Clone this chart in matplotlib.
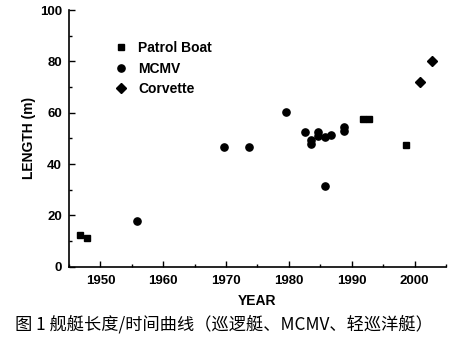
import matplotlib.pyplot as plt
from matplotlib.ticker import MultipleLocator

plt.rcParams['font.family'] = ['Liberation Sans', 'DejaVu Sans']

# vessel length vs. year of build
patrol_year = [1946.8, 1947.9, 1991.8, 1992.7, 1998.7]
patrol_len = [12.3, 11.3, 57.7, 57.7, 47.5]

mcmv_year = [1955.8, 1969.7, 1973.7, 1979.6, 1982.6, 1983.5, 1983.5, 1984.7,
             1984.7, 1985.7, 1985.8, 1986.7, 1988.7, 1988.7]
mcmv_len = [17.8, 46.5, 46.5, 60.4, 52.3, 49.5, 47.8, 52.3,
            50.8, 50.4, 31.5, 51.4, 54.5, 53.0]

corvette_year = [2000.8, 2002.8]
corvette_len = [72.1, 80.1]

caption = "图 1 舰艇长度/时间曲线（巡逻艇、MCMV、轻巡洋艇）"

fig = plt.figure(figsize=(4.66, 3.49), dpi=100)
ax = fig.add_axes([0.148, 0.236, 0.809, 0.735])

ax.plot(patrol_year, patrol_len, 's', color='black', ms=5, label='Patrol Boat')
ax.plot(mcmv_year, mcmv_len, 'o', color='black', ms=5.2, label='MCMV')
ax.plot(corvette_year, corvette_len, 'D', color='black', ms=4.6, label='Corvette')

ax.set_xlim(1945, 2005)
ax.set_ylim(0, 100)
ax.xaxis.set_major_locator(MultipleLocator(10))
ax.xaxis.set_minor_locator(MultipleLocator(5))
ax.yaxis.set_major_locator(MultipleLocator(20))
ax.yaxis.set_minor_locator(MultipleLocator(10))
ax.set_xticks([1950, 1960, 1970, 1980, 1990, 2000])

for side in ('top', 'right'):
    ax.spines[side].set_visible(False)
for side in ('left', 'bottom'):
    ax.spines[side].set_linewidth(1.2)

ax.tick_params(which='both', direction='in', width=1.0, labelsize=9.5)
ax.tick_params(which='major', length=4)
ax.tick_params(which='minor', length=2.5)
ax.tick_params(axis='x', pad=6)
ax.tick_params(axis='y', pad=5)
for lbl in ax.get_xticklabels() + ax.get_yticklabels():
    lbl.set_fontweight('bold')

ax.set_xlabel('YEAR', fontsize=10, fontweight='bold', labelpad=5)
ax.set_ylabel('LENGTH (m)', fontsize=10, fontweight='bold', labelpad=3)

leg = ax.legend(loc='upper left', bbox_to_anchor=(0.105, 0.90), frameon=False,
                fontsize=10, handletextpad=0.75, labelspacing=0.45,
                handlelength=1.0, borderaxespad=0)
for t in leg.get_texts():
    t.set_fontweight('bold')

fig.text(0.032, 0.07, caption, fontsize=12.4, va='center', ha='left',
         family=['Noto Sans CJK SC', 'DejaVu Sans'])

fig.savefig('out.png', dpi=100)
